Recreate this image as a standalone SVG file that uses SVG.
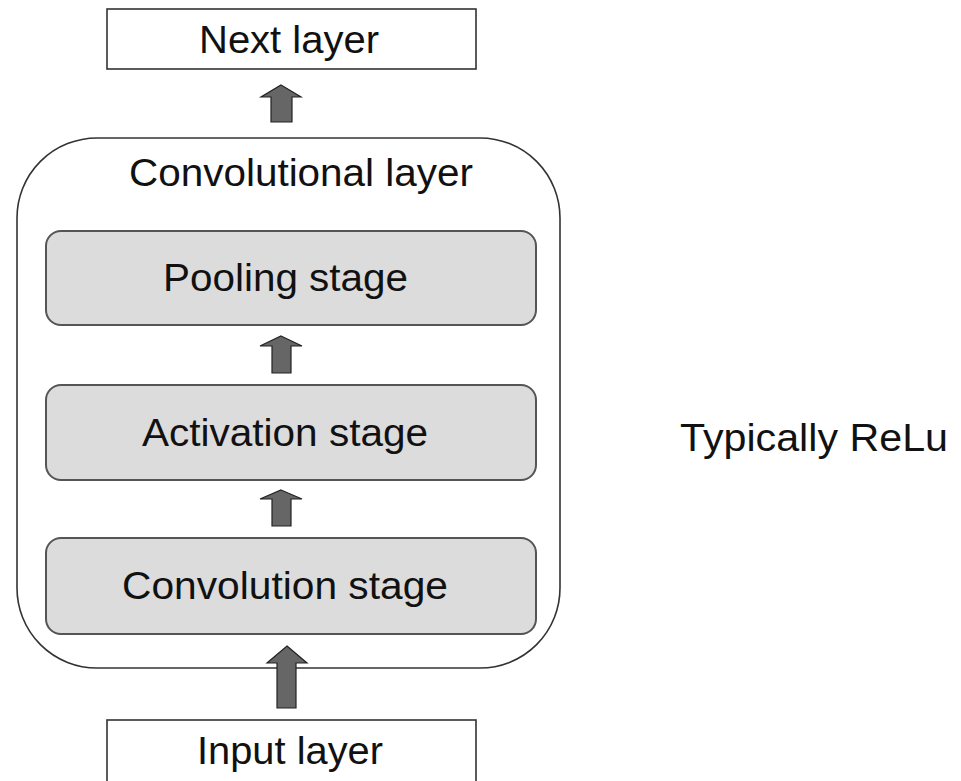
<svg xmlns="http://www.w3.org/2000/svg" width="961" height="781" viewBox="0 0 961 781">
<style>
.t{font-family:"Liberation Sans",Arial,sans-serif;font-size:38px;fill:#111;text-anchor:middle}
.box{fill:#fff;stroke:#333;stroke-width:1.6}
.stage{fill:#dcdcdc;stroke:#555;stroke-width:2}
.arr{fill:#666;stroke:#222;stroke-width:1.2;stroke-linejoin:miter}
</style>
<rect width="961" height="781" fill="#fff"/>
<g id="conv-layer">
<rect class="box" x="17" y="138" width="543" height="530" rx="80" ry="80"/>
<text class="t" x="301" y="186" textLength="344" lengthAdjust="spacingAndGlyphs">Convolutional layer</text>
</g>
<g id="next-layer">
<rect class="box" x="107" y="9" width="369" height="60"/>
<text class="t" x="289" y="53" textLength="180" lengthAdjust="spacingAndGlyphs">Next layer</text>
</g>
<g id="pooling">
<rect class="stage" x="46" y="231" width="490" height="94" rx="15" ry="15"/>
<text class="t" x="285.5" y="291" textLength="245" lengthAdjust="spacingAndGlyphs">Pooling stage</text>
</g>
<g id="activation">
<rect class="stage" x="46" y="385" width="490" height="95" rx="15" ry="15"/>
<text class="t" x="285" y="446" textLength="286" lengthAdjust="spacingAndGlyphs">Activation stage</text>
</g>
<g id="convolution">
<rect class="stage" x="46" y="538" width="490" height="96" rx="15" ry="15"/>
<text class="t" x="285" y="599" textLength="326" lengthAdjust="spacingAndGlyphs">Convolution stage</text>
</g>
<g id="input-layer">
<rect class="box" x="107" y="720" width="369" height="70"/>
<text class="t" x="290" y="764" textLength="186" lengthAdjust="spacingAndGlyphs">Input layer</text>
</g>
<g id="note">
<text class="t" x="814" y="451" textLength="268" lengthAdjust="spacingAndGlyphs">Typically ReLu</text>
</g>
<g id="connectors">
<polygon class="arr" points="281,85 301,97 292,97 292,122 271,122 271,97 261,97"/>
<polygon class="arr" points="281,336 302,346 291,346 291,373 272,373 272,346 260,346"/>
<polygon class="arr" points="281,490 302,499 291,499 291,526 272,526 272,499 260,499"/>
<polygon class="arr" points="287,646 307,663 296,663 296,708 277,708 277,663 267,663"/>
</g>
</svg>
